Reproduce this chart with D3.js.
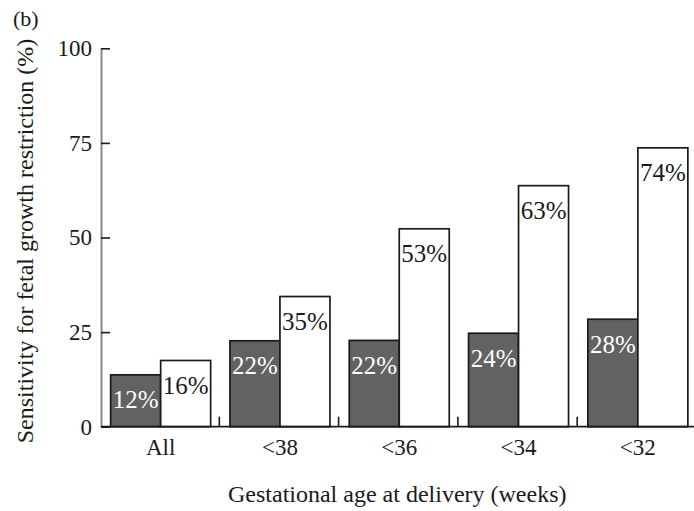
<!DOCTYPE html>
<html>
<head>
<meta charset="utf-8">
<script src="https://cdn.jsdelivr.net/npm/d3@7"></script>
<style>
  html, body { margin: 0; padding: 0; background: #fff; }
  svg { display: block; }
  text { font-family: "Liberation Serif", "Times New Roman", serif; }
</style>
</head>
<body>
<svg id="chart" width="694" height="511"></svg>
<script>
const categories = ["All", "<38", "<36", "<34", "<32"];
const seriesKeys = ["darkBar", "whiteBar"];
const darkValues = [13.7, 22.7, 22.8, 24.7, 28.4];
const whiteValues = [17.5, 34.4, 52.3, 63.7, 73.7];
const darkLabels = ["12%", "22%", "22%", "24%", "28%"];
const whiteLabels = ["16%", "35%", "53%", "63%", "74%"];
const yTicks = [0, 25, 50, 75, 100];
const panelLabel = "(b)";
const xTitle = "Gestational age at delivery (weeks)";
const yTitle = "Sensitivity for fetal growth restriction (%)";

const svg = d3.select("#chart");
const mLeft = 101, mRight = 697.5, mTop = 48.3, mBottom = 426.7;

const x0 = d3.scaleBand().domain(categories).range([mLeft, mRight]).paddingInner(0).paddingOuter(0);
const x1 = d3.scaleBand().domain(seriesKeys).range([0, x0.bandwidth()]).paddingInner(0).paddingOuter(0.193);
const y = d3.scaleLinear().domain([0, 100]).range([mBottom, mTop]);

const rows = categories.map((c, i) => ({
  cat: c,
  bars: [
    {key: "darkBar", value: darkValues[i], label: darkLabels[i]},
    {key: "whiteBar", value: whiteValues[i], label: whiteLabels[i]}
  ]
}));

const fills = {darkBar: "#626262", whiteBar: "#ffffff"};
const textFills = {darkBar: "#ffffff", whiteBar: "#1a1a1a"};

const groups = svg.append("g").selectAll("g").data(rows).join("g")
  .attr("transform", d => `translate(${x0(d.cat)},0)`);

groups.selectAll("rect").data(d => d.bars).join("rect")
  .attr("x", d => x1(d.key))
  .attr("y", d => y(d.value))
  .attr("width", x1.bandwidth())
  .attr("height", d => y(0) - y(d.value))
  .attr("fill", d => fills[d.key])
  .attr("stroke", "#1a1a1a")
  .attr("stroke-width", 1.7);

groups.selectAll("text").data(d => d.bars).join("text")
  .attr("x", d => x1(d.key) + x1.bandwidth() / 2)
  .attr("y", d => y(d.value) + 33.5)
  .attr("text-anchor", "middle")
  .attr("font-size", 25)
  .attr("fill", d => textFills[d.key])
  .text(d => d.label);

// Y axis
const yAxis = d3.axisLeft(y).tickValues(yTicks).tickSizeInner(-9).tickSizeOuter(0).tickPadding(9);
const gy = svg.append("g").attr("transform", `translate(${mLeft},0)`).call(yAxis);
gy.select(".domain").attr("stroke", "#8a8a8a").attr("stroke-width", 2);
gy.selectAll(".tick line").attr("stroke", "#1a1a1a").attr("stroke-width", 1.6);
gy.selectAll(".tick text").attr("font-size", 23).attr("fill", "#1a1a1a")
  .attr("font-family", "Liberation Serif, serif");

// X axis
const xAxis = d3.axisBottom(x0).tickSize(0).tickPadding(12);
const gx = svg.append("g").attr("transform", `translate(0,${mBottom})`).call(xAxis);
gx.select(".domain").remove();
gx.selectAll(".tick text").attr("font-size", 23).attr("fill", "#1a1a1a")
  .attr("font-family", "Liberation Serif, serif");
gx.append("line").attr("x1", mLeft).attr("x2", 694).attr("y1", 0).attr("y2", 0)
  .attr("stroke", "#1a1a1a").attr("stroke-width", 1.8);
gx.selectAll(".sep").data(categories.slice(1)).join("line").attr("class", "sep")
  .attr("x1", d => x0(d) - 1).attr("x2", d => x0(d) - 1)
  .attr("y1", 0).attr("y2", -10)
  .attr("stroke", "#1a1a1a").attr("stroke-width", 1.6);

// Titles
svg.append("text").attr("x", (mLeft + mRight) / 2 - 2).attr("y", 502)
  .attr("text-anchor", "middle").attr("font-size", 24).attr("fill", "#1a1a1a").text(xTitle);
svg.append("text").attr("transform", "translate(33,241) rotate(-90)")
  .attr("text-anchor", "middle").attr("font-size", 24).attr("fill", "#1a1a1a").text(yTitle);
svg.append("text").attr("x", 13).attr("y", 26).attr("font-size", 22).attr("fill", "#1a1a1a").text(panelLabel);
</script>
</body>
</html>
